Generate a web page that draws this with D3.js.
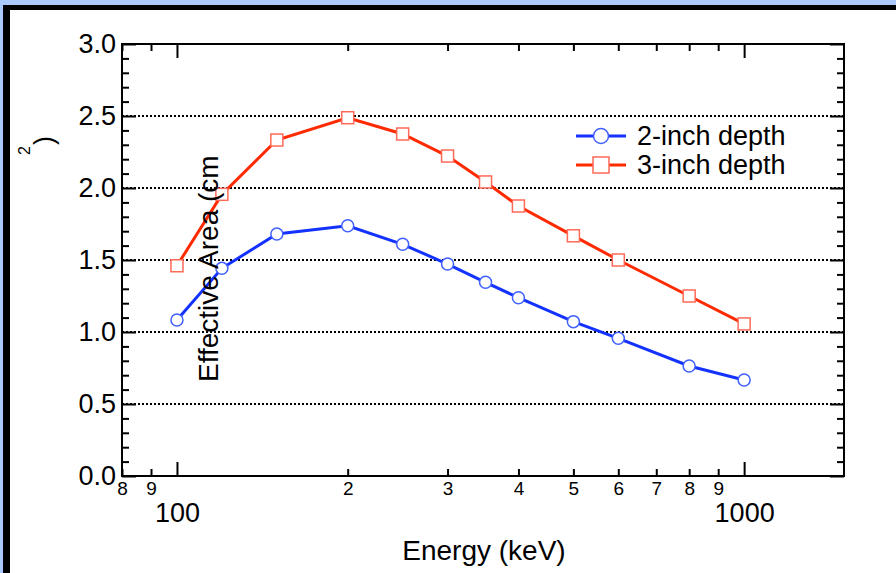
<!DOCTYPE html>
<html>
<head>
<meta charset="utf-8">
<script src="https://cdn.jsdelivr.net/npm/d3@7"></script>
<style>
  html, body { margin: 0; padding: 0; background: #a9c9ff; }
  svg { display: block; }
  text { font-family: "Liberation Sans", Arial, Helvetica, sans-serif; fill: #000; }
</style>
</head>
<body>
<svg id="chart" width="896" height="573"></svg>
<script>
// ---- data ----
const energies = [100, 120, 150, 200, 250, 300, 350, 400, 500, 600, 800, 1000];
const depth2 = [1.083, 1.442, 1.681, 1.738, 1.609, 1.472, 1.345, 1.238, 1.072, 0.956, 0.764, 0.667];
const depth3 = [1.460, 1.956, 2.333, 2.488, 2.375, 2.222, 2.042, 1.875, 1.668, 1.500, 1.250, 1.056];
const seriesNames = ["2-inch depth", "3-inch depth"];
const xMinorTicks = [80, 90, 200, 300, 400, 500, 600, 700, 800, 900];
const xMinorLabels = ["8", "9", "2", "3", "4", "5", "6", "7", "8", "9"];
const xMajorTicks = [100, 1000];
const xMajorLabels = ["100", "1000"];
const yMajorTicks = [0, 0.5, 1.0, 1.5, 2.0, 2.5, 3.0];
const yMinorTicks = [0.1,0.2,0.3,0.4,0.6,0.7,0.8,0.9,1.1,1.2,1.3,1.4,1.6,1.7,1.8,1.9,2.1,2.2,2.3,2.4,2.6,2.7,2.8,2.9];
const yGridLines = [0.5, 1.0, 1.5, 2.0, 2.5];

const FONT = "Liberation Sans, Arial, Helvetica, sans-serif";
const svg = d3.select("#chart");

// frame
svg.append("rect").attr("x", 0).attr("y", 0).attr("width", 896).attr("height", 573).attr("fill", "#a9c9ff");
svg.append("rect").attr("x", 3).attr("y", 5).attr("width", 893).attr("height", 568).attr("fill", "#000");
svg.append("rect").attr("x", 10).attr("y", 10).attr("width", 886).attr("height", 563).attr("fill", "#fff");

const L = 122, R = 844, T = 44, B = 476;
const x = d3.scaleLog().domain([80, 1500]).range([L, R]);
const y = d3.scaleLinear().domain([0, 3]).range([B, T]);

// grid lines
svg.append("g").selectAll("line").data(yGridLines).join("line")
  .attr("x1", L).attr("x2", R)
  .attr("y1", d => y(d)).attr("y2", d => y(d))
  .attr("stroke", "#000").attr("stroke-width", 2).attr("stroke-dasharray", "2,2");

function styleAxis(g) {
  g.select(".domain").remove();
  g.selectAll(".tick line").attr("stroke", "#000").attr("stroke-width", 2);
}

// bottom axis: minor ticks with small labels
svg.append("g").attr("transform", `translate(0,${B})`)
  .call(d3.axisBottom(x).tickValues(xMinorTicks).tickSize(-7).tickPadding(6)
    .tickFormat((d, i) => xMinorLabels[i]))
  .call(styleAxis)
  .call(g => g.attr("font-size", 19).attr("font-family", FONT));
// bottom axis: major ticks with large labels
svg.append("g").attr("transform", `translate(0,${B})`)
  .call(d3.axisBottom(x).tickValues(xMajorTicks).tickSize(-14).tickPadding(27)
    .tickFormat((d, i) => xMajorLabels[i]))
  .call(styleAxis)
  .call(g => g.attr("font-size", 27).attr("font-family", FONT));
// top axis mirror ticks
svg.append("g").attr("transform", `translate(0,${T})`)
  .call(d3.axisTop(x).tickValues(xMinorTicks).tickSize(-7).tickFormat(""))
  .call(styleAxis);
svg.append("g").attr("transform", `translate(0,${T})`)
  .call(d3.axisTop(x).tickValues(xMajorTicks).tickSize(-14).tickFormat(""))
  .call(styleAxis);

// left axis
svg.append("g").attr("transform", `translate(${L},0)`)
  .call(d3.axisLeft(y).tickValues(yMinorTicks).tickSize(-7).tickFormat(""))
  .call(styleAxis);
svg.append("g").attr("transform", `translate(${L},0)`)
  .call(d3.axisLeft(y).tickValues(yMajorTicks).tickSize(-14).tickPadding(6)
    .tickFormat(d3.format(".1f")))
  .call(styleAxis)
  .call(g => g.attr("font-size", 27).attr("font-family", FONT));
// right axis mirror
svg.append("g").attr("transform", `translate(${R},0)`)
  .call(d3.axisRight(y).tickValues(yMinorTicks).tickSize(-7).tickFormat(""))
  .call(styleAxis);
svg.append("g").attr("transform", `translate(${R},0)`)
  .call(d3.axisRight(y).tickValues(yMajorTicks).tickSize(-14).tickFormat(""))
  .call(styleAxis);

// plot frame
svg.append("rect").attr("x", L).attr("y", T).attr("width", R - L).attr("height", B - T)
  .attr("fill", "none").attr("stroke", "#000").attr("stroke-width", 2);

// series
const lineGen = d3.line().x(d => x(d[0])).y(d => y(d[1]));
const s2 = energies.map((e, i) => [e, depth2[i]]);
const s3 = energies.map((e, i) => [e, depth3[i]]);

const blue = "#1432ff", blueMarker = "#4060ff";
const red = "#ff2a00", redMarker = "#ff6a58";

svg.append("path").datum(s2).attr("d", lineGen).attr("fill", "none").attr("stroke", blue).attr("stroke-width", 3);
svg.append("path").datum(s3).attr("d", lineGen).attr("fill", "none").attr("stroke", red).attr("stroke-width", 3);

svg.append("g").selectAll("circle").data(s2).join("circle")
  .attr("cx", d => x(d[0])).attr("cy", d => y(d[1])).attr("r", 6)
  .attr("fill", "#fff").attr("stroke", blueMarker).attr("stroke-width", 1.5);
svg.append("g").selectAll("rect").data(s3).join("rect")
  .attr("x", d => x(d[0]) - 6).attr("y", d => y(d[1]) - 6).attr("width", 12).attr("height", 12)
  .attr("fill", "#fff").attr("stroke", redMarker).attr("stroke-width", 1.5);

// legend
const lg = svg.append("g");
lg.append("line").attr("x1", 576).attr("x2", 626).attr("y1", 136).attr("y2", 136).attr("stroke", blue).attr("stroke-width", 3);
lg.append("circle").attr("cx", 601).attr("cy", 136).attr("r", 7.5).attr("fill", "#fff").attr("stroke", blueMarker).attr("stroke-width", 1.5);
lg.append("text").attr("x", 637).attr("y", 145).attr("font-size", 27).text(seriesNames[0]);
lg.append("line").attr("x1", 576).attr("x2", 626).attr("y1", 165).attr("y2", 165).attr("stroke", red).attr("stroke-width", 3);
lg.append("rect").attr("x", 593).attr("y", 157).attr("width", 16).attr("height", 16).attr("fill", "#fff").attr("stroke", redMarker).attr("stroke-width", 1.5);
lg.append("text").attr("x", 637).attr("y", 174).attr("font-size", 27).text(seriesNames[1]);

// axis titles
svg.append("text").attr("x", 484).attr("y", 560).attr("text-anchor", "middle").attr("font-size", 28).text("Energy (keV)");
svg.append("text").attr("transform", "translate(218,382) rotate(-90)").attr("font-size", 28).text("Effective Area (cm");
svg.append("text").attr("transform", "translate(30,155) rotate(-90)").attr("font-size", 16).text("2");
svg.append("text").attr("transform", "translate(53,145) rotate(-90)").attr("font-size", 27).text(")");
</script>
</body>
</html>
